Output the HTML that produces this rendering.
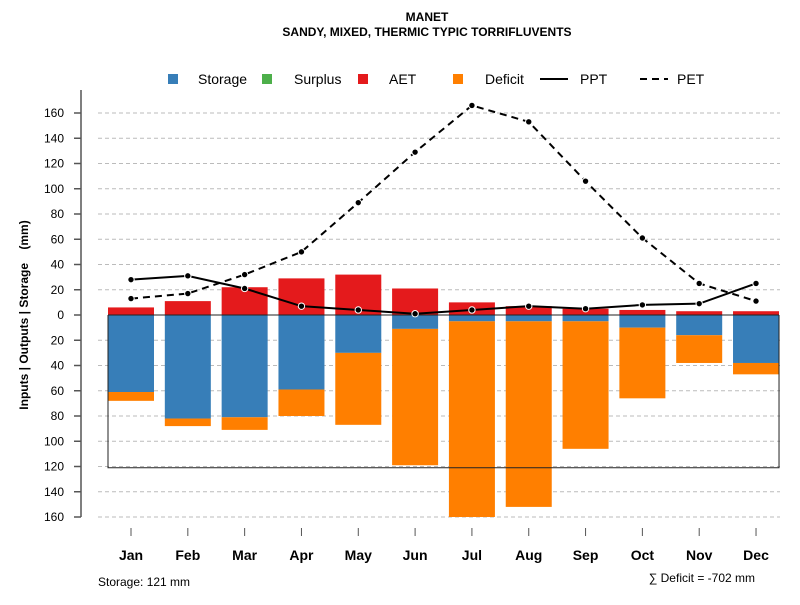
<!DOCTYPE html>
<html><head><meta charset="utf-8"><style>body{margin:0;background:#fff}svg{font-family:"Liberation Sans",Arial,sans-serif}</style></head>
<body>
<svg id="c" width="800" height="600" viewBox="0 0 800 600"></svg>
<script>
const months=["Jan","Feb","Mar","Apr","May","Jun","Jul","Aug","Sep","Oct","Nov","Dec"];
const aet=[6,11,22,29,32,21,10,7,5,4,3,3];
const storage=[61,82,81,59,30,11,5,5,5,10,16,38];
const deficit=[7,6,10,21,57,108,155,147,101,56,22,9];
const ppt=[28,31,21,7,4,1,4,7,5,8,9,25];
const pet=[13,17,32,50,89,129,166,153,106,61,25,11];
const yTicks=[160,140,120,100,80,60,40,20,0,20,40,60,80,100,120,140,160];
const storageCap=121;
const svg=document.getElementById('c');const NS='http://www.w3.org/2000/svg';
function el(t,a,txt){const e=document.createElementNS(NS,t);for(const k in a)e.setAttribute(k,a[k]);if(txt!==undefined)e.textContent=txt;svg.appendChild(e);return e;}
const y0=315,k=1.2625;
const y=v=>y0-v*k;
const x=i=>131+i*56.82;
const bw=46;
let t=el('text',{x:427,y:21,'text-anchor':'middle','font-size':12,'font-weight':'bold'},'MANET');

t=el('text',{x:427,y:36,'text-anchor':'middle','font-size':12,'font-weight':'bold'},'SANDY, MIXED, THERMIC TYPIC TORRIFLUVENTS');

for(let j=0;j<yTicks.length;j++){const v=j<8?yTicks[j]:-yTicks[j];const yy=y(v);
 if(v!==0){const g=el('line',{x1:98,x2:780,y1:yy,y2:yy,stroke:'#bbb','stroke-dasharray':'4,3'});}
 const tk=el('line',{x1:74,x2:81,y1:yy,y2:yy,stroke:'#555','stroke-width':1.5});
 const l=el('text',{x:64,y:yy+4,'text-anchor':'end','font-size':12},yTicks[j]);}
let ax=el('line',{x1:81,x2:81,y1:90,y2:y(-160),stroke:'#555','stroke-width':1.5});
t=el('text',{x:0,y:0,transform:'translate(28,315) rotate(-90)','text-anchor':'middle','font-size':12,'font-weight':'bold'},'Inputs | Outputs | Storage\u00a0\u00a0\u00a0\u00a0(mm)');

for(let i=0;i<12;i++){const cx=x(i);
 let r=el('rect',{x:cx-bw/2,y:y(aet[i]),width:bw,height:aet[i]*k,fill:'#e41a1c'});
 r=el('rect',{x:cx-bw/2,y:y0,width:bw,height:storage[i]*k,fill:'#377eb8'});
 r=el('rect',{x:cx-bw/2,y:y(-storage[i]),width:bw,height:deficit[i]*k,fill:'#ff7f00'});
 const tk=el('line',{x1:cx,x2:cx,y1:528,y2:536,stroke:'#555'});
 const l=el('text',{x:cx,y:560,'text-anchor':'middle','font-size':14,'font-weight':'bold'},months[i]);}
let b=el('path',{d:`M${x(0)-bw/2},${y0}V${y(-storageCap)}H${x(11)+bw/2}V${y0}`,fill:'none',stroke:'#222','stroke-width':1});
b=el('line',{x1:x(0)-bw/2,x2:x(11)+bw/2,y1:y0,y2:y0,stroke:'#222'});
function series(arr,dash,name){const p=el('polyline',{points:arr.map((v,i)=>x(i)+','+y(v)).join(' '),fill:'none',stroke:'#000','stroke-width':2,'stroke-dasharray':dash});
 arr.forEach((v,i)=>{const c=el('circle',{cx:x(i),cy:y(v),r:3.2,fill:'#000',stroke:'#fff','stroke-width':1});});}
series(pet,'7,5','pet');series(ppt,'none','ppt');
const leg=[['Storage','#377eb8',168,198],['Surplus','#4daf4a',262,294],['AET','#e41a1c',358,389],['Deficit','#ff7f00',453,485]];
leg.forEach(d=>{let r=el('rect',{x:d[2],y:74,width:10,height:10,fill:d[1]});
 let l=el('text',{x:d[3],y:84,'font-size':14},d[0]);});
let ll=el('line',{x1:540,x2:568,y1:79,y2:79,stroke:'#000','stroke-width':2});
t=el('text',{x:580,y:84,'font-size':14},'PPT');
ll=el('line',{x1:640,x2:668,y1:79,y2:79,stroke:'#000','stroke-width':2,'stroke-dasharray':'7,5'});
t=el('text',{x:677,y:84,'font-size':14},'PET');
t=el('text',{x:98,y:586,'font-size':12},'Storage: '+storageCap+' mm');
t=el('text',{x:755,y:582,'text-anchor':'end','font-size':12},'∑ Deficit = -702 mm');
</script>
</body></html>
